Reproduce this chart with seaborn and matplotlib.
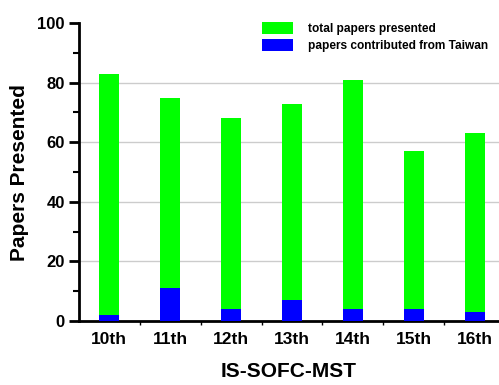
import pandas as pd
import matplotlib.pyplot as plt
import seaborn as sns

sessions = ["10th", "11th", "12th", "13th", "14th", "15th", "16th"]
total_papers = [83, 75, 68, 73, 81, 57, 63]
taiwan_papers = [2, 11, 4, 7, 4, 4, 3]

df = pd.DataFrame({"Session": sessions, "Total": total_papers, "Taiwan": taiwan_papers})

sns.set_theme(style="white")
plt.rcParams["font.family"] = ["Liberation Sans", "DejaVu Sans"]
plt.rcParams["font.weight"] = "bold"
plt.rcParams["text.color"] = "black"
plt.rcParams["xtick.color"] = "black"
plt.rcParams["ytick.color"] = "black"
plt.rcParams["axes.labelcolor"] = "black"

fig = plt.figure(figsize=(4.99, 3.85), dpi=100)
ax = fig.add_axes([0.158, 0.166, 0.842, 0.774])

sns.barplot(data=df, x="Session", y="Total", color="#00ff00", saturation=1,
            width=0.33, ax=ax, label="total papers presented", zorder=2,
            linewidth=0, edgecolor="none")
sns.barplot(data=df, x="Session", y="Taiwan", color="#0000ff", saturation=1,
            width=0.33, ax=ax, label="papers contributed from Taiwan", zorder=3,
            linewidth=0, edgecolor="none")

ax.set_xlim(-0.5, 6.4)
ax.set_ylim(0, 100)
ax.set_yticks([0, 20, 40, 60, 80, 100])
ax.set_yticks([10, 30, 50, 70, 90], minor=True)
ax.set_xticks([0.5, 1.5, 2.5, 3.5, 4.5, 5.5], minor=True)
for y in [20, 40, 60, 80]:
    ax.axhline(y, color="#cccccc", lw=1, zorder=1)

for side in ["top", "right"]:
    ax.spines[side].set_visible(False)
for side in ["left", "bottom"]:
    ax.spines[side].set_linewidth(2)
    ax.spines[side].set_color("black")

ax.tick_params(axis="y", which="major", direction="out", length=7, width=2,
               labelsize=12, left=True, pad=3)
ax.tick_params(axis="y", which="minor", direction="out", length=4, width=1.5, left=True)
ax.tick_params(axis="x", which="major", length=0, labelsize=12.5, pad=8)
ax.tick_params(axis="x", which="minor", direction="out", length=3, width=1, bottom=True)
for lab in ax.get_xticklabels() + ax.get_yticklabels():
    lab.set_fontweight("bold")

ax.set_xlabel("IS-SOFC-MST", fontsize=15, fontweight="bold", labelpad=11)
ax.set_ylabel("Papers Presented", fontsize=15, fontweight="bold", labelpad=6)

ax.legend(loc="upper right", bbox_to_anchor=(1.0, 1.04), frameon=False,
          prop={"size": 8.6, "weight": "bold"}, handlelength=2.6, handleheight=1.2,
          labelspacing=0.3, handletextpad=1.3)

plt.savefig("out.png", dpi=100)
